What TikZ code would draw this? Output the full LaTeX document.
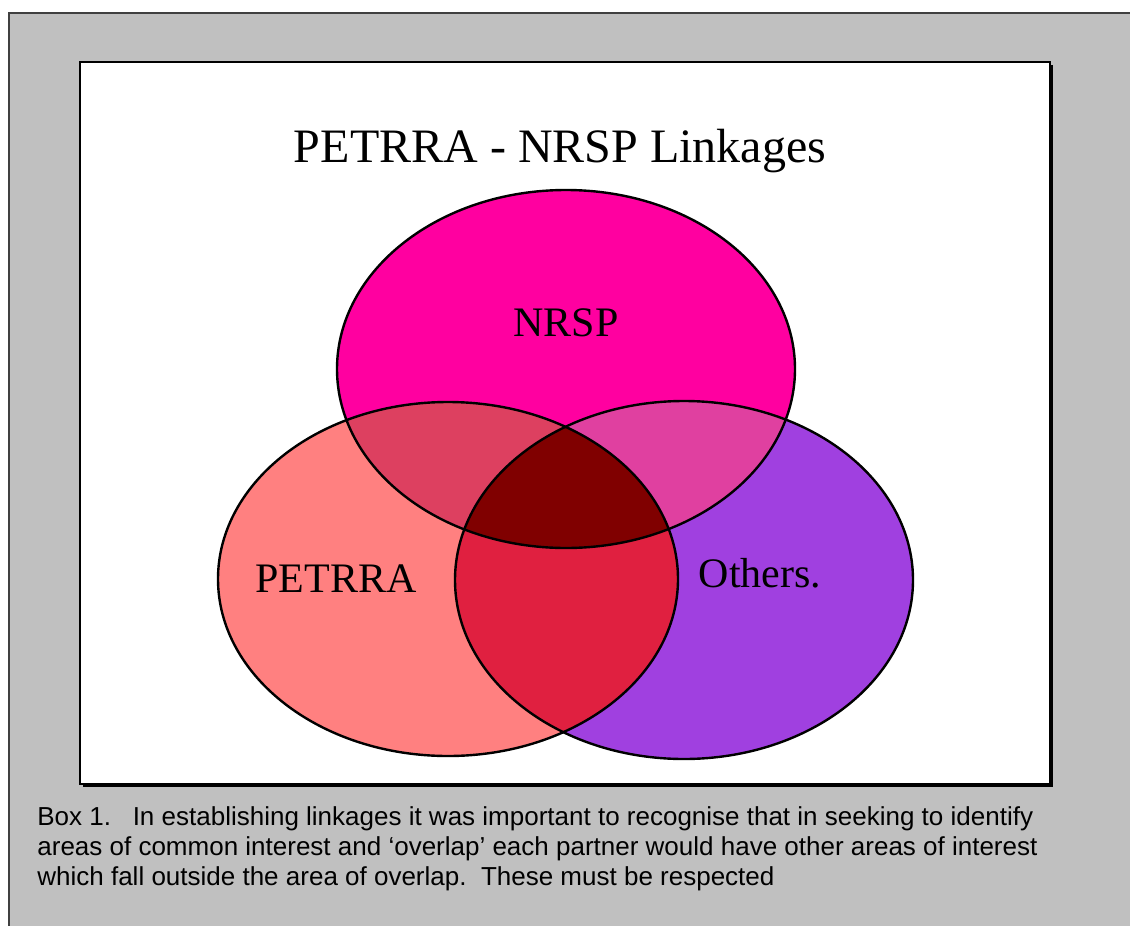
\documentclass[tikz,border=0pt]{standalone}
\usepackage{fontspec}
\setmainfont{Liberation Serif}
\setsansfont{Liberation Sans}
\usetikzlibrary{positioning}
\definecolor{boxgray}{RGB}{192,192,192}
\definecolor{nrspcol}{RGB}{255,0,160}
\definecolor{petrracol}{RGB}{255,128,128}
\definecolor{otherscol}{RGB}{160,64,224}
\definecolor{petnrcol}{RGB}{221,64,96}
\definecolor{nrothcol}{RGB}{224,64,160}
\definecolor{petothcol}{RGB}{224,32,64}
\definecolor{allcol}{RGB}{128,0,0}
\tikzset{
  outline/.style = {draw=black, line width=1.2pt},
  label text/.style = {font=\fontsize{21}{25}\selectfont, anchor=base},
  caption text/.style = {font=\sffamily\fontsize{13}{15}\selectfont, align=left, anchor=north west, inner sep=0pt}
}
% the three sets, in pixel units
\newcommand{\nrspset}{(566,369) ellipse [x radius=229, y radius=179]}
\newcommand{\petrraset}{(448,579) ellipse [x radius=230, y radius=177]}
\newcommand{\othersset}{(684,580) ellipse [x radius=229, y radius=179]}

\begin{document}
\begin{tikzpicture}[x=0.5pt, y=-0.5pt]
    \useasboundingbox (0,0) rectangle (1130,926);
    % Frame -----------------------------------------------------------------------------------
    \draw[fill=boxgray, draw=black!75, line width=1pt] (9,13) rectangle (1150,950);
    \fill[black] (83,65) rectangle (1053,787);
    \draw[fill=white, draw=black, line width=1pt] (80,62) rectangle (1050,784);
    % Title
    \node[font=\fontsize{24}{29}\selectfont, anchor=base] (title) at (560,162) {PETRRA - NRSP Linkages};
    % Sets ------------------------------------------------------------------------------------
    \fill[petrracol] \petrraset;
    \fill[otherscol] \othersset;
    \fill[nrspcol] \nrspset;
    % Overlaps
    \begin{scope}
        \clip \nrspset;
        \fill[petnrcol] \petrraset;
        \fill[nrothcol] \othersset;
    \end{scope}
    \begin{scope}
        \clip \petrraset;
        \fill[petothcol] \othersset;
        \clip \othersset;
        \fill[allcol] \nrspset;
    \end{scope}
    % Outlines
    \draw[outline] \petrraset;
    \draw[outline] \othersset;
    \draw[outline] \nrspset;
    % Labels ----------------------------------------------------------------------------------
    \node[label text] (nrsp) at (566,336) {NRSP};
    \node[label text] (petrra) at (336,592) {PETRRA};
    \node[label text] (others) at (760,587) {Others.};
    % Caption ---------------------------------------------------------------------------------
    \node[caption text] (caption) at (37,806) {Box 1.\ \ \ In establishing linkages it was important to recognise that in seeking to identify\\
        areas of common interest and ‘overlap’ each partner would have other areas of interest\\
        which fall outside the area of overlap.\ \ These must be respected};
\end{tikzpicture}
\end{document}
